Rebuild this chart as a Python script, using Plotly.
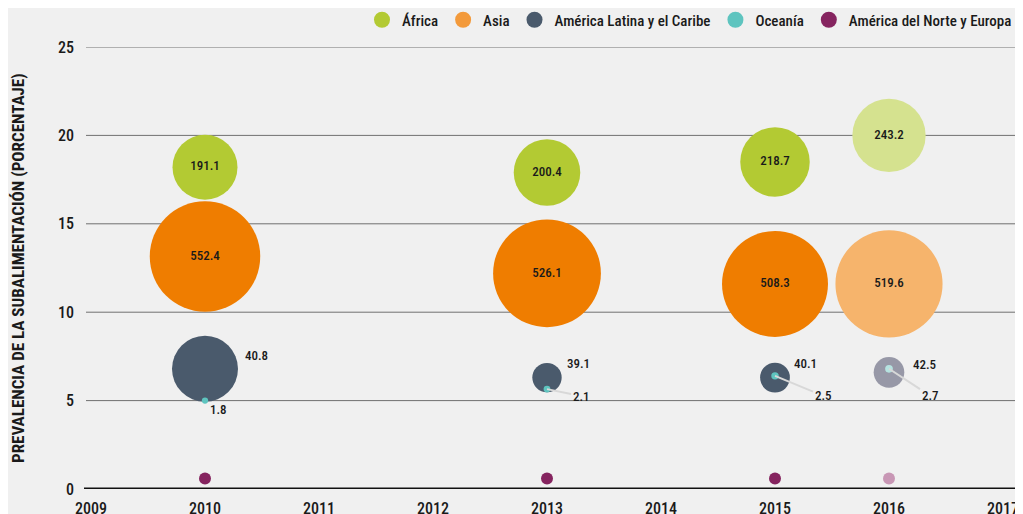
import math
import plotly.graph_objects as go

# ---------------- data ----------------
years = [2010, 2013, 2015, 2016]
x_ticks = [2009, 2010, 2011, 2012, 2013, 2014, 2015, 2016, 2017]
y_ticks = [0, 5, 10, 15, 20, 25]

africa_prev = [18.2, 17.9, 18.5, 20.0]
africa_mill = [191.1, 200.4, 218.7, 243.2]
asia_prev = [13.15, 12.2, 11.6, 11.6]
asia_mill = [552.4, 526.1, 508.3, 519.6]
latam_prev = [6.8, 6.3, 6.3, 6.6]
latam_mill = [40.8, 39.1, 40.1, 42.5]
oceania_prev = [5.0, 5.65, 6.4, 6.8]
oceania_mill = [1.8, 2.1, 2.5, 2.7]
nae_prev = [0.6, 0.6, 0.6, 0.6]

names = ["África", "Asia", "América Latina y el Caribe", "Oceanía", "América del Norte y Europa"]

# ---------------- styles ----------------
FONT = "Roboto Condensed, Roboto, sans-serif"
TXT = "#1a1a1a"
BG = "#f0f0f0"
K = 4.7  # px of diameter per sqrt(million)
col = {
    "africa": ("#b3ca33", "#d5e28f"),
    "asia": ("#ef7d00", "#f6b46c"),
    "latam": ("#4a5a6c", "#9798a7"),
    "oceania": ("#5ec4bf", "#b6e3e0"),
    "nae": ("#85245f", "#c897b5"),
}
legend_cols = ["#b3ca33", "#f39a3b", "#4a5a6c", "#5ec4bf", "#85245f"]

# page has an 8px body margin; figure is offset accordingly
W, H = 1015, 506
ML, MR, MT, MB = 83, 20, 39, 25
PW = W - ML - MR
PH = H - MT - MB


def colors(key):
    base, light = col[key]
    return [light if y == 2016 else base for y in years]


def sizes(vals):
    return [K * math.sqrt(v) for v in vals]


latam_sizes = sizes(latam_mill)
latam_sizes[0] = 66  # the 2010 bubble is drawn larger in the original

LBL = dict(family=FONT, size=13, color=TXT, weight=500)

fig = go.Figure()

fig.add_trace(go.Scatter(
    x=years, y=africa_prev, name=names[0], mode="markers+text", showlegend=False,
    marker=dict(size=sizes(africa_mill), color=colors("africa"), opacity=1, line=dict(width=0)),
    text=[f"{v:.1f}" for v in africa_mill], textposition="middle center",
    textfont=LBL, cliponaxis=False))
fig.add_trace(go.Scatter(
    x=years, y=asia_prev, name=names[1], mode="markers+text", showlegend=False,
    marker=dict(size=sizes(asia_mill), color=colors("asia"), opacity=1, line=dict(width=0)),
    text=[f"{v:.1f}" for v in asia_mill], textposition="middle center",
    textfont=LBL, cliponaxis=False))
fig.add_trace(go.Scatter(
    x=years, y=latam_prev, name=names[2], mode="markers", showlegend=False,
    marker=dict(size=latam_sizes, color=colors("latam"), opacity=1, line=dict(width=0)),
    cliponaxis=False))
fig.add_trace(go.Scatter(
    x=years, y=oceania_prev, name=names[3], mode="markers", showlegend=False,
    marker=dict(size=sizes(oceania_mill), color=colors("oceania"), opacity=1, line=dict(width=0)),
    cliponaxis=False))
fig.add_trace(go.Scatter(
    x=years, y=nae_prev, name=names[4], mode="markers", showlegend=False,
    marker=dict(size=12, color=colors("nae"), opacity=1, line=dict(width=0)),
    cliponaxis=False))

# legend-only entries
for n, c in zip(names, legend_cols):
    fig.add_trace(go.Scatter(x=[None], y=[None], name=n, mode="markers",
                             marker=dict(size=16, color=c, line=dict(width=0))))

annotations = []
# América Latina labels
latam_off = [(51, 13), (31, 14), (30, 14), (35, 8)]
for yr, p, v, (dx, dy) in zip(years, latam_prev, latam_mill, latam_off):
    annotations.append(dict(x=yr, y=p, xref="x", yref="y", text=f"{v:.1f}", showarrow=False,
                            xshift=dx, yshift=dy, font=LBL))
# Oceanía labels (with leader lines)
oce_off = [(13, 9, False), (34, 7, True), (48, 20, True), (41, 27, True)]
for yr, p, v, (dx, dy, arrow) in zip(years, oceania_prev, oceania_mill, oce_off):
    if arrow:
        annotations.append(dict(x=yr, y=p, xref="x", yref="y", text=f"{v:.1f}", showarrow=True,
                                ax=dx, ay=dy, arrowhead=0, arrowwidth=2, arrowcolor="#d8d8d8",
                                standoff=0, startstandoff=0, font=LBL))
    else:
        annotations.append(dict(x=yr, y=p, xref="x", yref="y", text=f"{v:.1f}", showarrow=False,
                                xshift=dx, yshift=-dy, font=LBL))

# y-axis title
annotations.append(dict(x=(10 - ML) / PW, y=0.5, xref="paper", yref="paper", textangle=-90,
                        xanchor="center", yanchor="middle",
                        text="PREVALENCIA DE LA SUBALIMENTACIÓN (PORCENTAJE)",
                        showarrow=False, font=dict(family=FONT, size=17, color=TXT, weight="bold")))

# grid lines extending slightly beyond plot area
gx0 = -5 / PW
gx1 = (W - ML) / PW
shapes = []
for t in y_ticks[1:]:
    shapes.append(dict(type="line", xref="paper", yref="y", x0=gx0, x1=gx1, y0=t, y1=t,
                       line=dict(color="#707070", width=1), layer="below"))
shapes.append(dict(type="line", xref="paper", yref="y", x0=-7 / PW, x1=gx1, y0=0, y1=0,
                   line=dict(color="#111111", width=3), layer="below"))

fig.update_layout(
    width=W, height=H,
    margin=dict(l=ML, r=MR, t=MT, b=MB, autoexpand=False),
    paper_bgcolor=BG, plot_bgcolor=BG,
    font=dict(family=FONT, color=TXT),
    showlegend=True,
    legend=dict(orientation="h", x=1 + 14 / PW, xanchor="right", y=1 + 27 / PH, yanchor="middle",
                itemsizing="trace", font=dict(family=FONT, size=15, color=TXT, weight=500),
                bgcolor="rgba(0,0,0,0)", traceorder="normal"),
    xaxis=dict(range=[2009, 2017], tickvals=x_ticks, ticktext=[str(t) for t in x_ticks],
               showgrid=False, zeroline=False, showline=False, ticks="", ticklabelstandoff=8,
               tickfont=dict(family=FONT, size=16, color=TXT, weight=500), fixedrange=True),
    yaxis=dict(range=[0, 25], tickvals=y_ticks, showgrid=False, zeroline=False, showline=False,
               ticks="", ticklabelstandoff=16,
               tickfont=dict(family=FONT, size=16, color=TXT, weight=500), fixedrange=True),
    annotations=annotations,
    shapes=shapes,
)

fig.write_html("out.html")
